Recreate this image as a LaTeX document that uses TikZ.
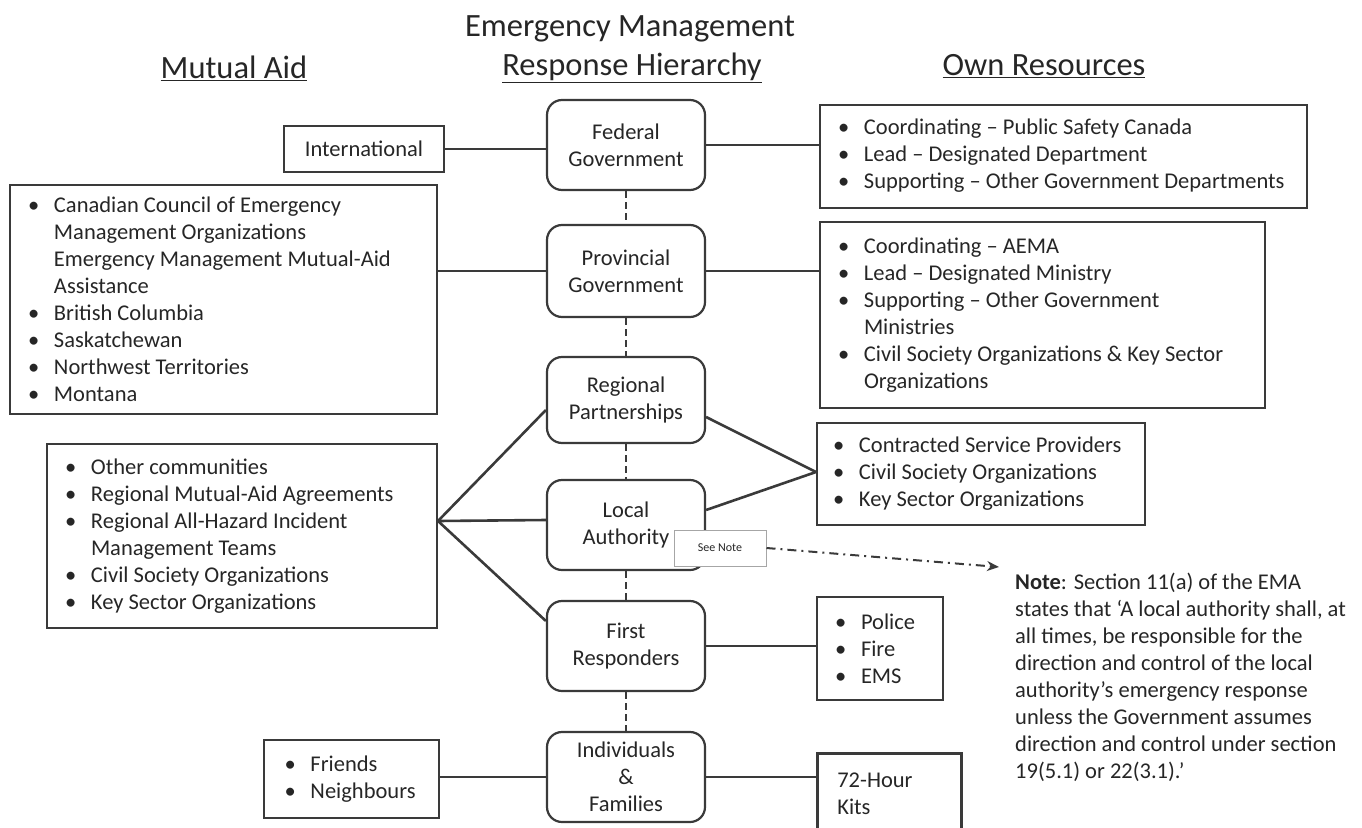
\documentclass[tikz,border=0pt]{standalone}
\usepackage{fontspec}
\setmainfont{Carlito}
\usetikzlibrary{arrows.meta}
\definecolor{ink}{HTML}{262626}
\definecolor{edge}{HTML}{3A3A3A}
\newcommand{\fbody}{\fontsize{22.5}{27}\selectfont}
\newcommand{\ftitle}{\fontsize{32.5}{38}\selectfont}
\newcommand{\nsk}{\spaceskip=0pt\relax\xspaceskip=0pt\relax}
\newcommand{\bu}{\makebox[28pt][l]{\hspace{2pt}\textbullet}}
\newcommand{\ind}{\hspace*{28pt}}
\begin{document}
\begin{tikzpicture}[x=1pt,y=-1pt,
  hier/.style={draw=edge, line width=2.2pt, rounded corners=15pt, fill=white,
    align=center, text=ink, font=\fbody, minimum width=158pt, minimum height=90pt, inner sep=0pt},
  listbox/.style={draw=edge, line width=2pt, align=left, text=ink, font=\fbody, inner ysep=0pt},
  link/.style={draw=edge, line width=2.6pt},
  vdash/.style={draw=edge, line width=2.4pt, dash pattern=on 7pt off 4pt},
  titletext/.style={text=ink, font=\ftitle, inner sep=0pt}
]
\useasboundingbox (0,0) rectangle (1362,827);
\clip (0,0) rectangle (1362,827);

% titles
\node[titletext] (t1) at (630,29) {Emergency Management};
\node[titletext] (t2) at (234,68) {\underline{Mutual Aid}};
\node[titletext] (t3) at (632,68) {\underline{Response Hierarchy}};
\node[titletext] (t4) at (1044,66) {\underline{Own Resources}};

% hierarchy boxes
\node[hier] (fed) at (626,145) {Federal\\Government};
\node[hier, minimum height=92pt] (prov) at (626,271) {Provincial\\Government};
\node[hier, minimum height=86pt] (reg) at (626,400) {Regional\\Partnerships};
\node[hier] (loc) at (626,525) {Local\\Authority};
\node[hier] (first) at (626,646) {First\\Responders};
\node[hier] (ind) at (626,777) {Individuals\\\&\\Families};

% mutual aid boxes
\node[listbox, minimum width=160pt, minimum height=46pt, inner xsep=0pt, align=center, line width=2.6pt] (intl) at (364,149) {International};
\node[listbox, text width=395pt, inner xsep=16pt, minimum height=229pt] (mabig) at (223.5,299.5) {\nsk
\bu Canadian Council of Emergency\\
\ind Management Organizations\\
\ind Emergency Management Mutual-Aid\\
\ind Assistance\\
\bu British Columbia\\
\bu Saskatchewan\\
\bu Northwest Territories\\
\bu Montana};
\node[listbox, text width=358pt, inner xsep=16pt, minimum height=184pt] (mamid) at (242,536) {\nsk
\bu Other communities\\
\bu Regional Mutual-Aid Agreements\\
\bu Regional All-Hazard Incident\\
\ind Management Teams\\
\bu Civil Society Organizations\\
\bu Key Sector Organizations};
\node[listbox, text width=137pt, inner xsep=19pt, minimum height=78pt] (friends) at (351,779) {\nsk
\bu Friends\\
\bu Neighbours};

% own resources boxes
\node[listbox, text width=455pt, inner xsep=16pt, minimum height=103pt] (fedres) at (1063.5,156) {\nsk
\bu Coordinating -- Public Safety Canada\\
\bu Lead -- Designated Department\\
\bu Supporting -- Other Government Departments};
\node[listbox, text width=413pt, inner xsep=16pt, minimum height=186pt] (provres) at (1042.5,315) {\nsk
\bu Coordinating -- AEMA\\
\bu Lead -- Designated Ministry\\
\bu Supporting -- Other Government\\
\ind Ministries\\
\bu Civil Society Organizations \& Key Sector\\
\ind Organizations};
\node[listbox, text width=300pt, inner xsep=14pt, minimum height=102pt] (contr) at (981,474) {\nsk
\bu Contracted Service Providers\\
\bu Civil Society Organizations\\
\bu Key Sector Organizations};
\node[listbox, text width=94pt, inner xsep=16pt, minimum height=103pt] (police) at (880,648.5) {\nsk
\bu Police\\
\bu Fire\\
\bu EMS};
\node[listbox, text width=104pt, inner xsep=20pt, inner ysep=20pt, anchor=north west, line width=2.6pt] (kits) at (816,752) {\nsk
72-Hour\\
Kits\\[20pt]};

% see note
\node[draw=gray!70, line width=1pt, fill=white, text=ink, font=\fontsize{12}{14}\selectfont,
  minimum width=92pt, minimum height=36pt, inner sep=0pt] (seenote) at (720,548) {See Note};
\coordinate (notetip) at (999,567);

% note text
\node[anchor=north west, align=left, text=ink, font=\fbody, inner sep=0pt] (note) at (1015,573) {%
\textbf{Note}: Section 11(a) of the EMA\\
states that ‘A local authority shall, at\\
all times, be responsible for the\\
direction and control of the local\\
authority’s emergency response\\
unless the Government assumes\\
direction and control under section\\
19(5.1) or 22(3.1).’};

% connectors
\draw[link] (intl.east) -- (fed.west |- intl.east);
\draw[link] (fed.east) -- (fedres.west |- fed.east);
\draw[link] (mabig.east |- prov.west) -- (prov.west);
\draw[link] (prov.east) -- (provres.west |- prov.east);
\draw[link] ([yshift=-17pt]reg.east) -- ([yshift=2pt]contr.west);
\draw[link] ([yshift=15pt]loc.east) -- ([yshift=2pt]contr.west);
\draw[link] ([yshift=15pt]mamid.east) -- ([yshift=-10pt]reg.west);
\draw[link] ([yshift=15pt]mamid.east) -- ([yshift=5pt]loc.west);
\draw[link] ([yshift=15pt]mamid.east) -- ([yshift=25pt]first.west);
\draw[link] (first.east) -- (police.west |- first.east);
\draw[link] (friends.east |- ind.west) -- (ind.west);
\draw[link] (ind.east) -- (kits.west |- ind.east);

\draw[vdash] (fed.south) -- (prov.north);
\draw[vdash] (prov.south) -- (reg.north);
\draw[vdash] (reg.south) -- (loc.north);
\draw[vdash] (loc.south) -- (first.north);
\draw[vdash] (first.south) -- (ind.north);

\draw[draw=edge, line width=2pt, dash pattern=on 9pt off 5pt on 2pt off 5pt,
  -{Stealth[length=12pt,width=10pt]}] (seenote.east) -- (notetip);
\end{tikzpicture}
\end{document}
